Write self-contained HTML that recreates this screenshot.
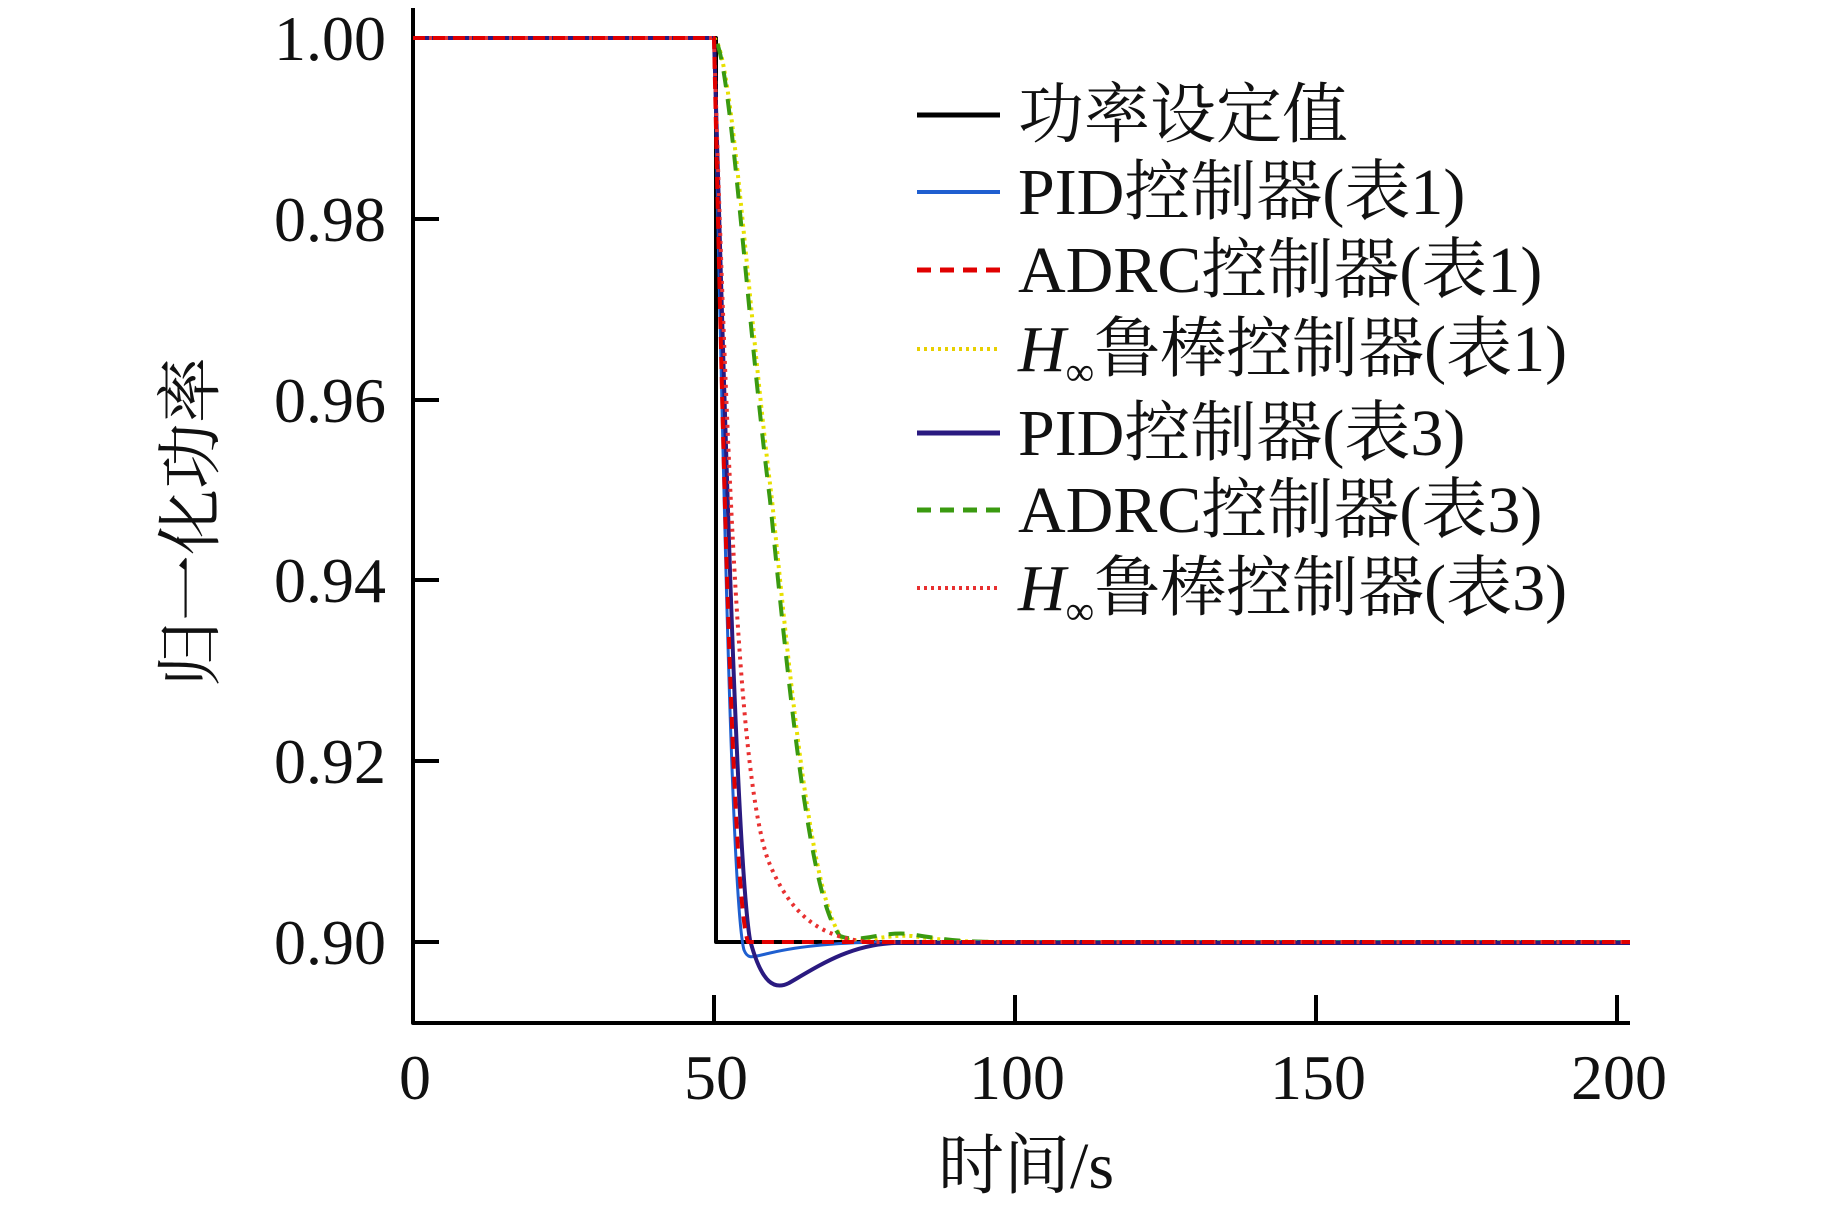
<!DOCTYPE html>
<html><head><meta charset="utf-8"><style>
html,body{margin:0;padding:0;background:#fff;}
svg{display:block;}
text{font-family:"Liberation Serif","Noto Serif CJK SC",serif;fill:#111;}
</style></head><body>
<svg width="1843" height="1205" viewBox="0 0 1843 1205" xmlns="http://www.w3.org/2000/svg">
<g fill="none" stroke-linejoin="round">
<path d="M413,8 V1023 H1630" stroke="#000" stroke-width="4"/>
<g stroke="#000" stroke-width="4">
<path d="M413,38 H439 M413,219 H439 M413,400 H439 M413,580 H439 M413,761 H439 M413,942 H439"/>
<path d="M714,1023 V995 M1015,1023 V995 M1316,1023 V995 M1617,1023 V995"/>
</g>
<path d="M413,38 H716 V942 H1630" stroke="#000" stroke-width="4"/>
<path d="M413,38 H714 C732,50 747,300 772,500 C792,700 812,900 842,938 C862,945 882,934 912,936 C942,940 962,942 1002,942 H1630" stroke="#e8e000" stroke-width="4" stroke-dasharray="3,4"/>
<path d="M413,38 H714 C730,50 745,300 770,500 C790,700 810,900 840,936 C860,944 880,931 910,934 C940,939 960,942 1000,942 H1630" stroke="#3a9a10" stroke-width="4" stroke-dasharray="16,12"/>
<path d="M413,38 H714 C720,300 730,900 744,950 C748,960 752,957 770,953 C800,946 840,942 894,942 H1630" stroke="#1f5fd0" stroke-width="3"/>
<path d="M413,38 H714 C722,300 735,850 750,940 C762,985 775,990 789,983 C820,965 850,945 894,943 H1630" stroke="#2a1a80" stroke-width="4"/>
<path d="M413,38 H714 C728,500 740,780 768,860 C790,915 820,938 870,942 H1630" stroke="#e83030" stroke-width="4" stroke-dasharray="3,5"/>
<path d="M413,38 H714 C722,400 732,900 748,942 H1630" stroke="#e00000" stroke-width="4" stroke-dasharray="12,8"/>
<path d="M917,115 H1000" stroke="#000" stroke-width="5"/>
<path d="M917,192 H1000" stroke="#1f5fd0" stroke-width="4"/>
<path d="M917,270 H1000" stroke="#e00000" stroke-width="5" stroke-dasharray="14,9"/>
<path d="M917,349 H1000" stroke="#e8d000" stroke-width="4" stroke-dasharray="3,4"/>
<path d="M917,433 H1000" stroke="#2a1a80" stroke-width="5"/>
<path d="M917,510 H1000" stroke="#3a9a10" stroke-width="5" stroke-dasharray="14,9"/>
<path d="M917,588 H1000" stroke="#e83030" stroke-width="4" stroke-dasharray="3,4"/>
</g>
<g font-size="64" text-anchor="end">
<text x="386" y="60">1.00</text>
<text x="386" y="241">0.98</text>
<text x="386" y="422">0.96</text>
<text x="386" y="602">0.94</text>
<text x="386" y="783">0.92</text>
<text x="386" y="964">0.90</text>
</g>
<g font-size="64" text-anchor="middle">
<text x="415" y="1099">0</text>
<text x="716" y="1099">50</text>
<text x="1017" y="1099">100</text>
<text x="1318" y="1099">150</text>
<text x="1619" y="1099">200</text>
<text x="1026" y="1188" font-size="66">时间/s</text>
</g>
<text x="0" y="0" font-size="66" text-anchor="middle" transform="translate(213,522) rotate(-90)">归一化功率</text>
<g font-size="66">
<text x="1018" y="137">功率设定值</text>
<text x="1018" y="214">PID控制器(表1)</text>
<text x="1018" y="292">ADRC控制器(表1)</text>
<text x="1018" y="371"><tspan font-style="italic">H</tspan><tspan font-size="40" dy="14">∞</tspan><tspan dy="-14">鲁棒控制器(表1)</tspan></text>
<text x="1018" y="455">PID控制器(表3)</text>
<text x="1018" y="532">ADRC控制器(表3)</text>
<text x="1018" y="610"><tspan font-style="italic">H</tspan><tspan font-size="40" dy="14">∞</tspan><tspan dy="-14">鲁棒控制器(表3)</tspan></text>
</g>
</svg>
</body></html>
